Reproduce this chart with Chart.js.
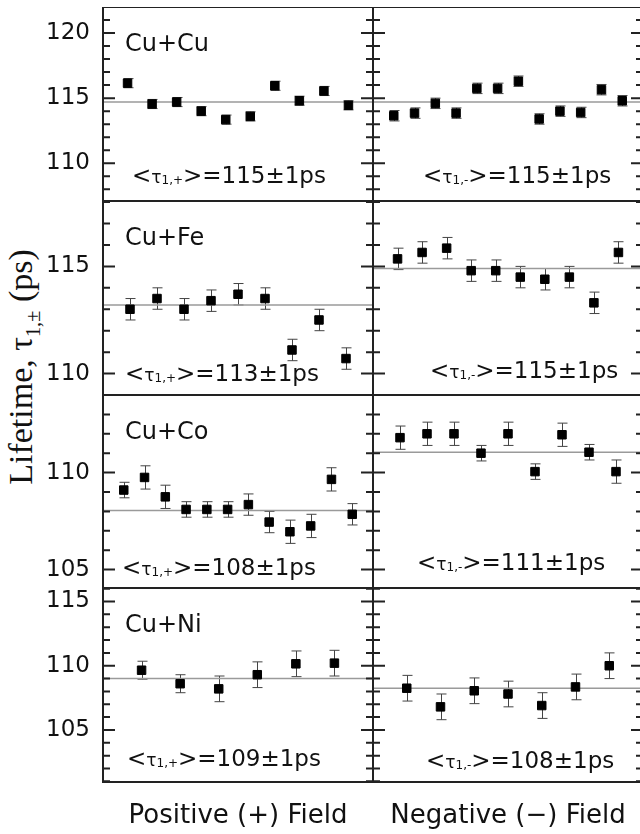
<!DOCTYPE html>
<html>
<head>
<meta charset="utf-8">
<title>Lifetime τ1,± for positive and negative field</title>
<script src="https://cdn.jsdelivr.net/npm/chart.js@4.4.0/dist/chart.umd.min.js"></script>
<style>
  html, body { margin: 0; padding: 0; background: #fff; overflow: hidden; }
  #wrap { position: relative; width: 640px; height: 834px; overflow: hidden; }
  #wrap canvas { position: absolute; }
  #ytitle {
    position: absolute; left: 23.5px; top: 367px;
    transform: translate(-50%, -50%) rotate(-90deg);
    font: 34px 'Liberation Serif', serif; line-height: 1;
    white-space: nowrap; color: #111;
  }
  #ytitle sub { font-size: 60%; }
</style>
</head>
<body>
<div id="wrap">
  <div id="ytitle">Lifetime, τ<sub>1,±</sub> (ps)</div>
</div>
<script>
// one row per alloy pair, left = positive field, right = negative field
const alloys = ['Cu+Cu', 'Cu+Fe', 'Cu+Co', 'Cu+Ni'];
const fieldTitles = ['Positive (+) Field', 'Negative (−) Field'];

const yTicks = [[110, 115, 120], [110, 115], [105, 110], [105, 110, 115]];
const yMin = [107.1, 109, 104.05, 100.95];
const yMax = [122.0, 118.05, 114.0, 116.05];

const cuCuPos = [116.15, 114.55, 114.7, 114.0, 113.35, 113.6, 115.95, 114.8, 115.55, 114.45];
const cuCuPosErr = [0.35, 0.35, 0.35, 0.35, 0.35, 0.35, 0.35, 0.35, 0.35, 0.35];
const cuCuNeg = [113.65, 113.85, 114.6, 113.85, 115.75, 115.75, 116.3, 113.4, 114.0, 113.9, 115.65, 114.8];
const cuCuNegErr = [0.4, 0.4, 0.4, 0.4, 0.4, 0.4, 0.4, 0.4, 0.4, 0.4, 0.4, 0.4];

const cuFePos = [113.0, 113.5, 113.0, 113.4, 113.7, 113.5, 111.1, 112.5, 110.7];
const cuFePosErr = [0.5, 0.5, 0.5, 0.5, 0.5, 0.5, 0.5, 0.5, 0.5];
const cuFeNeg = [115.35, 115.65, 115.85, 114.8, 114.8, 114.5, 114.4, 114.5, 113.3, 115.65];
const cuFeNegErr = [0.5, 0.5, 0.5, 0.5, 0.5, 0.5, 0.5, 0.5, 0.5, 0.5];

const cuCoPos = [109.1, 109.75, 108.75, 108.1, 108.1, 108.1, 108.35, 107.45, 106.95, 107.25, 109.65, 107.85];
const cuCoPosErr = [0.4, 0.6, 0.6, 0.4, 0.4, 0.4, 0.55, 0.55, 0.6, 0.6, 0.6, 0.55];
const cuCoNeg = [111.8, 112.0, 112.0, 111.0, 112.0, 110.05, 111.95, 111.05, 110.05];
const cuCoNegErr = [0.6, 0.6, 0.6, 0.4, 0.6, 0.4, 0.6, 0.4, 0.6];

const cuNiPos = [109.65, 108.6, 108.2, 109.3, 110.15, 110.2];
const cuNiPosErr = [0.7, 0.7, 1.0, 1.0, 1.0, 1.0];
const cuNiNeg = [108.25, 106.8, 108.05, 107.8, 106.9, 108.35, 110.0];
const cuNiNegErr = [1.0, 1.0, 1.0, 1.0, 1.0, 1.0, 1.0];

const posMeans = [114.7, 113.2, 108.05, 109.0];
const negMeans = [114.7, 114.9, 111.05, 108.25];
const posAvgText = ['115', '113', '108', '109'];
const negAvgText = ['115', '115', '111', '108'];

const posSeries = [cuCuPos, cuFePos, cuCoPos, cuNiPos];
const posErrors = [cuCuPosErr, cuFePosErr, cuCoPosErr, cuNiPosErr];
const negSeries = [cuCuNeg, cuFeNeg, cuCoNeg, cuNiNeg];
const negErrors = [cuCuNegErr, cuFeNegErr, cuCoNegErr, cuNiNegErr];

// page layout
const rowTop = [7, 201, 395, 588];
const rowH = [194, 194, 193, 194];
const axisW = 103, panelW = 270, bottomAxisH = 52;
// start of the <τ> text from the panel's left edge, baseline up from its bottom
const annoPosL = [[29, 18], [22, 14], [19, 13], [24, 16]];
const annoPosR = [[50, 18], [57, 17], [44, 18], [53, 14]];

const FONT = '"DejaVu Sans", sans-serif';
const INK = '#111';

const panelDecor = {
  id: 'panelDecor',
  beforeDatasetsDraw(chart) {
    const {ctx, scales: {x, y}} = chart;
    const ds = chart.data.datasets[0];
    ctx.save();
    ctx.strokeStyle = '#444';
    ctx.lineWidth = 1;
    ds.data.forEach((p, i) => {
      const e = ds.errors[i];
      const px = Math.round(x.getPixelForValue(p.x)) + 0.5;
      const y1 = y.getPixelForValue(p.y + e);
      const y2 = y.getPixelForValue(p.y - e);
      ctx.beginPath();
      ctx.moveTo(px, y1); ctx.lineTo(px, y2);
      ctx.moveTo(px - 5, y1); ctx.lineTo(px + 5, y1);
      ctx.moveTo(px - 5, y2); ctx.lineTo(px + 5, y2);
      ctx.stroke();
    });
    ctx.restore();
  },
  afterDraw(chart, args, opts) {
    const {ctx, chartArea: a, scales: {y}} = chart;
    ctx.save();
    ctx.strokeStyle = '#222';
    ctx.lineWidth = 2;
    ctx.strokeRect(a.left, a.top, a.right - a.left, a.bottom - a.top);

    // inward ticks every 1 ps, long ones every 5 ps
    for (let v = Math.ceil(y.min); v < y.max; v++) {
      if (v <= y.min) continue;
      const py = y.getPixelForValue(v);
      const len = v % 5 === 0 ? 12 : 7;
      ctx.beginPath();
      ctx.moveTo(a.left, py); ctx.lineTo(a.left + len, py);
      ctx.moveTo(a.right, py); ctx.lineTo(a.right - len, py);
      ctx.stroke();
    }

    ctx.fillStyle = INK;
    ctx.textAlign = 'left';
    ctx.textBaseline = 'alphabetic';
    if (opts.label) {
      ctx.font = '24px ' + FONT;
      ctx.fillText(opts.label, a.left + 22, a.top + 44);
    }

    let tx = a.left + opts.anno[0];
    const ty = a.bottom - opts.anno[1];
    const parts = [
      ['<', 23, 0], ['τ', 17, 0], [opts.sub, 12, 1],
      ['>=' + opts.avg, 23, 0], ['±', 23, 0], ['1ps', 23, 0]
    ];
    parts.forEach(([t, size, dy]) => {
      ctx.font = size + 'px ' + FONT;
      ctx.fillText(t, tx, ty + dy);
      tx += ctx.measureText(t).width;
    });
    ctx.restore();
  }
};

function makePanel(row, side) {
  const isLeft = side === 0;
  const isBottom = row === alloys.length - 1;
  const vals = isLeft ? posSeries[row] : negSeries[row];
  const errs = isLeft ? posErrors[row] : negErrors[row];
  const mean = isLeft ? posMeans[row] : negMeans[row];
  const n = vals.length;

  const canvas = document.createElement('canvas');
  canvas.width = isLeft ? axisW + panelW : panelW;
  canvas.height = rowH[row] + (isBottom ? bottomAxisH : 0);
  canvas.style.left = (isLeft ? 0 : axisW + panelW) + 'px';
  canvas.style.top = rowTop[row] + 'px';
  document.getElementById('wrap').appendChild(canvas);

  new Chart(canvas, {
    type: 'scatter',
    data: {
      datasets: [
        {
          data: vals.map((v, i) => ({x: i + 1, y: v})),
          errors: errs,
          pointStyle: 'rect',
          pointRadius: 6,
          backgroundColor: '#000',
          borderColor: '#000',
          borderWidth: 1
        },
        {
          data: [{x: 0, y: mean}, {x: n + 1, y: mean}],
          showLine: true,
          pointRadius: 0,
          borderColor: '#9a9a9a',
          borderWidth: 1.5
        }
      ]
    },
    options: {
      responsive: false,
      animation: false,
      devicePixelRatio: 1,
      events: [],
      layout: {padding: 0, autoPadding: false},
      plugins: {
        legend: {display: false},
        tooltip: {enabled: false},
        panelDecor: {
          label: isLeft ? alloys[row] : '',
          sub: isLeft ? '1,+' : '1,-',
          avg: isLeft ? posAvgText[row] : negAvgText[row],
          anno: isLeft ? annoPosL[row] : annoPosR[row]
        }
      },
      scales: {
        x: {
          type: 'linear', min: 0, max: n + 1,
          display: isBottom,
          grid: {display: false, drawTicks: false},
          border: {display: false},
          ticks: {display: false},
          title: {
            display: isBottom,
            text: fieldTitles[side],
            color: INK,
            font: {family: FONT, size: 26},
            padding: {top: 0, bottom: 2}
          },
          afterFit: s => {
            s.height = isBottom ? bottomAxisH : 0;
            s.paddingLeft = s.paddingRight = 0;
          }
        },
        y: {
          type: 'linear', min: yMin[row], max: yMax[row],
          display: isLeft,
          grid: {display: false, drawTicks: false},
          border: {display: false},
          ticks: {color: INK, font: {family: FONT, size: 23}, padding: 13},
          afterBuildTicks: s => { s.ticks = yTicks[row].map(v => ({value: v})); },
          afterFit: s => {
            s.width = isLeft ? axisW : 0;
            s.paddingTop = s.paddingBottom = 0;
          }
        }
      }
    },
    plugins: [panelDecor]
  });
}

alloys.forEach((name, row) => {
  makePanel(row, 0);
  makePanel(row, 1);
});
</script>
</body>
</html>
